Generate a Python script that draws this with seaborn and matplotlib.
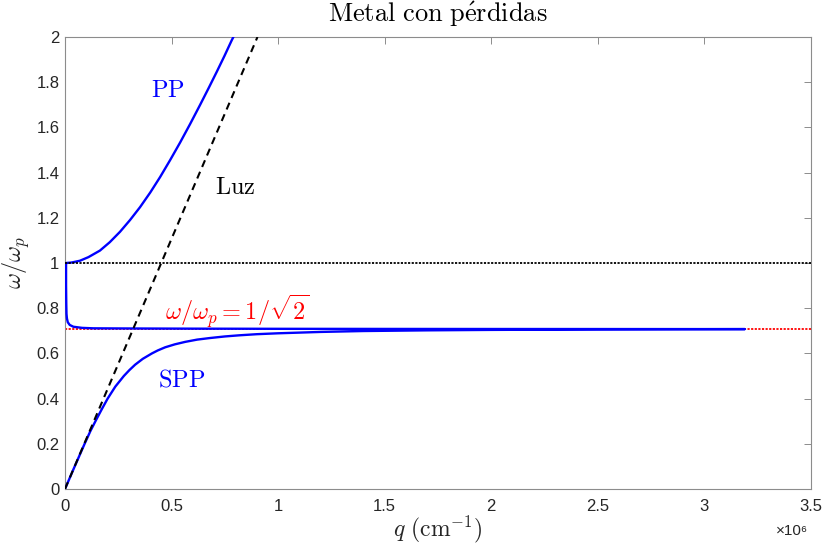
import matplotlib
matplotlib.use("Agg")
import matplotlib.pyplot as plt
import seaborn as sns
import pandas as pd
from matplotlib.ticker import FuncFormatter

# ---- data (q in cm^-1, w = omega/omega_p) ----
# lower SPP branch (rising from origin toward 1/sqrt(2))
q_spp = [0, 0.04e6, 0.092e6, 0.12e6, 0.145e6, 0.172e6, 0.2e6, 0.236e6, 0.276e6, 0.302e6,
         0.329e6, 0.365e6, 0.408e6, 0.435e6, 0.47e6, 0.515e6, 0.564e6, 0.62e6, 0.68e6,
         0.75e6, 0.817e6, 0.9e6, 1.0e6, 1.1e6, 1.2e6, 1.4e6, 1.7e6, 2.0e6, 2.5e6, 2.9e6,
         3.19e6]
w_spp = [0, 0.088, 0.2, 0.258, 0.304, 0.352, 0.4, 0.453, 0.5, 0.526,
         0.55, 0.576, 0.6, 0.613, 0.627, 0.64, 0.651, 0.661, 0.668,
         0.675, 0.68, 0.685, 0.689, 0.692, 0.695, 0.699, 0.702, 0.704, 0.706, 0.707,
         0.7075]
# back-bending branch (returns along ~1/sqrt(2) to q ~ 0, then up to 1)
q_back = [3.19e6, 2.5e6, 2.0e6, 1.5e6, 1.0e6, 0.6e6, 0.4e6, 0.25e6, 0.133e6, 0.08e6,
          0.039e6, 0.022e6, 0.013e6, 0.009e6, 0.007e6, 0.006e6, 0.005e6, 0.005e6]
w_back = [0.7075, 0.7078, 0.708, 0.7083, 0.7088, 0.7095, 0.710, 0.7105, 0.711, 0.713,
          0.718, 0.726, 0.738, 0.755, 0.775, 0.82, 0.9, 1.0]
# PP branch (above omega_p)
q_pp = [0.005e6, 0.03e6, 0.07e6, 0.11e6, 0.164e6, 0.21e6, 0.258e6, 0.305e6, 0.352e6,
        0.40e6, 0.446e6, 0.493e6, 0.54e6, 0.587e6, 0.634e6, 0.675e6, 0.712e6, 0.748e6,
        0.782e6, 0.79e6]
w_pp = [1.0, 1.002, 1.01, 1.026, 1.055, 1.092, 1.138, 1.19, 1.247,
        1.312, 1.38, 1.455, 1.533, 1.615, 1.7, 1.776, 1.846, 1.916,
        1.985, 2.0]
# light line
q_luz = [0, 0.903e6]
w_luz = [0, 2.0]
# reference levels
q_ref = [0, 3.5e6]
w_plasma = [1.0, 1.0]
w_sp = [0.7071, 0.7071]

x_ticks = [0, 0.5e6, 1.0e6, 1.5e6, 2.0e6, 2.5e6, 3.0e6, 3.5e6]
y_ticks = [0, 0.2, 0.4, 0.6, 0.8, 1.0, 1.2, 1.4, 1.6, 1.8, 2.0]

# ---- style ----
sns.set_style("white")
plt.rcParams["mathtext.fontset"] = "cm"
plt.rcParams["font.family"] = ["Liberation Sans", "DejaVu Sans"]

fig = plt.figure(figsize=(8.22, 5.44), dpi=100)
ax = fig.add_axes([65 / 822, 1 - 489 / 544, (811 - 65) / 822, (489 - 37) / 544])

curve = pd.DataFrame({"q": q_spp + q_back[1:] + q_pp[1:],
                      "w": w_spp + w_back[1:] + w_pp[1:]})

sns.lineplot(x=q_ref, y=w_sp, ax=ax, color="#ff0000", linestyle=(0, (1.2, 0.8)),
             linewidth=1.3, zorder=2)
sns.lineplot(data=curve, x="q", y="w", ax=ax, sort=False, estimator=None,
             color="#0000ff", linewidth=1.7, zorder=3)
sns.lineplot(x=q_ref, y=w_plasma, ax=ax, color="black", linestyle=(0, (1.2, 0.8)),
             linewidth=1.3, zorder=4)
sns.lineplot(x=q_luz, y=w_luz, ax=ax, color="black", linestyle=(0, (3.5, 2.5)),
             linewidth=1.5, zorder=4)

ax.set_xlim(0, 3.5e6)
ax.set_ylim(0, 2)
ax.set_xticks(x_ticks)
ax.set_yticks(y_ticks)
ax.xaxis.set_major_formatter(FuncFormatter(lambda v, p: f"{v / 1e6:g}"))
ax.yaxis.set_major_formatter(FuncFormatter(lambda v, p: f"{round(v, 1):g}"))

for s in ax.spines.values():
    s.set_visible(True)
    s.set_color("#8c8c8c")
    s.set_linewidth(0.8)
ax.tick_params(direction="in", top=True, right=True, length=5, width=0.7,
               color="#8c8c8c", labelsize=12, labelcolor="#262626")
ax.tick_params(axis="x", pad=7)
ax.tick_params(axis="y", pad=4)

ax.set_xlabel(r"$q\ (\mathrm{cm}^{-1})$", fontsize=17, labelpad=0, color="#262626")
ax.set_ylabel(r"$\omega/\omega_p$", fontsize=17.5, labelpad=3, color="#262626")
ax.set_title(r"$\mathrm{Metal\ con\ p\acute{e}rdidas}$", fontsize=19, pad=11, color="black")

fig.text(792 / 822, 1 - 531 / 544, "×10⁶", ha="center", va="center",
         fontsize=11, color="#262626")

ax.text(0.484e6, 1.76, r"$\mathrm{PP}$", color="#0000ff", fontsize=17.5, ha="center", va="center")
ax.text(0.80e6, 1.33, r"$\mathrm{Luz}$", color="black", fontsize=17.5, ha="center", va="center")
ax.text(0.81e6, 0.785, r"$\omega/\omega_p=1/\sqrt{2}$", color="#ff0000", fontsize=17.5,
        ha="center", va="center")
ax.text(0.545e6, 0.48, r"$\mathrm{SPP}$", color="#0000ff", fontsize=17.5, ha="center", va="center")

fig.savefig("out.png", dpi=100)
